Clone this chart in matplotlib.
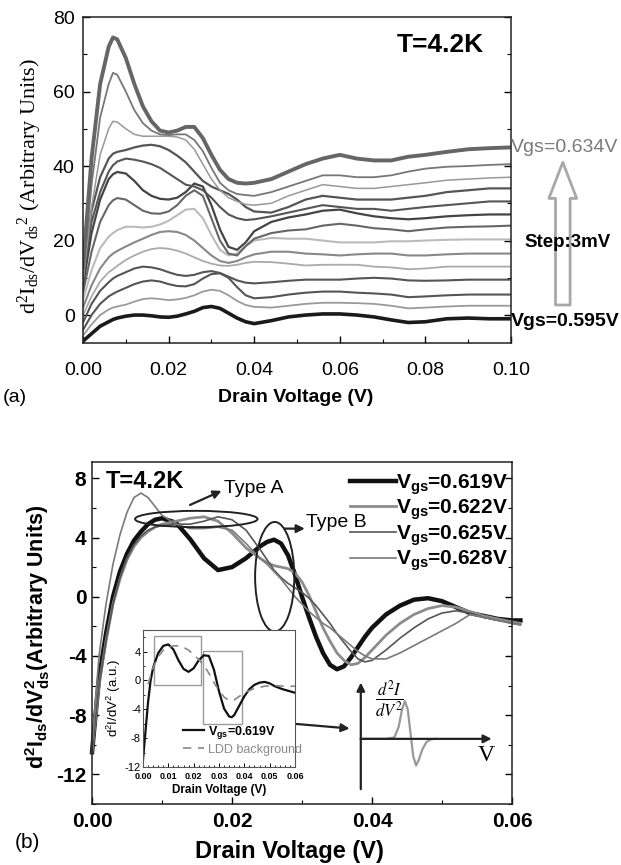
import matplotlib
matplotlib.use("Agg")
import matplotlib.pyplot as plt
from matplotlib.patches import Ellipse, Rectangle
from matplotlib.ticker import MultipleLocator, FixedLocator

plt.rcParams["font.family"] = ["Liberation Sans", "DejaVu Sans"]
plt.rcParams["axes.unicode_minus"] = False

# ---- panel (a): d2I/dV2 for Vgs = 0.595 ... 0.634 V, 3 mV steps ----
A_X = [0, .002, .004, .006, .007, .008, .010, .012, .014, .016, .018, .020,
       .022, .024, .026, .028, .030, .032, .034, .036, .038, .040, .044, .048,
       .052, .056, .060, .064, .068, .072, .076, .080, .085, .090, .095, .100]

A_0595 = [-7, -5, -3, -1.8, -1.2, -0.8, -0.3, 0, 0, -0.2, -0.5, -0.6, -0.3, 0.3, 1, 2, 2.3, 1.8,
          0.5, -0.8, -1.8, -2.3, -1.5, -0.5, 0, 0.3, 0.3, 0, -0.5, -1.3, -2, -1.8, -1, -0.8, -1, -1]
A_0598 = [-5.5, -2.5, 0, 1.5, 2, 2.3, 2.8, 3.6, 4.3, 4.5, 4.3, 4, 4.2, 4.6, 5.3, 6.3, 6.8, 6.5,
          5.3, 3.8, 2.7, 2.2, 2, 2.5, 3, 3.3, 3.3, 3.2, 3, 2.5, 1.8, 2, 2.3, 2.5, 2.5, 2.5]
A_0601 = [-4, 0, 3, 5, 5.7, 6.3, 7.3, 8.3, 9, 9.3, 9, 8.3, 7.8, 7.7, 8.3, 9.8, 11, 11.2,
          10, 7.5, 5.3, 4.5, 4.8, 5.5, 6, 6.3, 6.3, 6, 5.8, 5.5, 4.8, 5, 5.3, 5.5, 5.5, 5.5]
A_0604 = [-2, 3, 6.5, 8.8, 9.8, 10.5, 11.5, 12.5, 13, 12.8, 12.3, 11.5, 10.8, 10.5, 10.8, 11.5, 11.8, 11.3,
          10.3, 9.3, 8.7, 8.5, 8.8, 9.2, 9.5, 9.5, 9.5, 9.8, 10, 9.8, 9.3, 9.2, 9.3, 9.5, 9.5, 9.5]
A_0607 = [0, 5, 9, 11.5, 12.3, 13.2, 14.8, 16, 17, 17.7, 18, 17.8, 17.3, 16.5, 15.5, 14.5, 13.8, 13.3,
          13.2, 13.5, 14, 14.3, 14.2, 13.8, 13.3, 13.5, 13.5, 13.5, 13, 12.8, 12.3, 12.5, 13, 13, 13, 13]
A_0610 = [2, 8, 12.5, 15.5, 16.5, 17.2, 18.4, 19.5, 20.5, 21.5, 22.3, 22.5, 22.3, 21.5, 20, 18, 16, 14.5,
          14, 14.5, 15.5, 16.3, 17, 17, 16.5, 16.3, 16, 16.3, 16.5, 16.5, 16, 16, 16.3, 16.5, 16.5, 16.5]
A_0613 = [4, 12, 18, 21, 22, 22.8, 23.7, 23.7, 23.5, 23.7, 24.3, 25.3, 26.8, 28.3, 28.5, 26, 21.5, 17.5,
          16, 16.5, 18.5, 20, 20.7, 20.5, 20.5, 20, 19.5, 19.5, 19.5, 19.8, 19.8, 20, 20.2, 20.3, 20.3, 20.3]
A_0616 = [6, 17, 25, 29.5, 30.8, 31.4, 31, 29.5, 28, 27.3, 27.2, 27.8, 29.5, 32, 33.5, 32, 26, 20,
          16.5, 16, 18.5, 20.5, 22, 22.7, 23, 24, 24.5, 24, 23.3, 23, 22.5, 23, 23.5, 23.7, 23.8, 24]
A_0619 = [8, 22, 31, 36.5, 37.8, 38.4, 38, 36, 33.5, 32, 31.2, 31, 31.5, 33, 35.3, 34.5, 29.5, 23,
          18.3, 17.5, 19.5, 22.5, 25, 26.2, 27, 28, 28.3, 27.3, 26.5, 26, 25.7, 26, 26.5, 26.8, 27, 27]
A_0622 = [10, 25, 33, 38.5, 40.2, 41.2, 42, 41.7, 41.2, 40.5, 39.5, 38, 36.5, 35, 34.5, 33.5, 31.5, 29,
          27, 26, 25.5, 25.7, 26.5, 27.5, 28.5, 29.5, 29, 28.5, 28.5, 28, 28.5, 29, 29.5, 30, 30.5, 30.5]
A_0625 = [12, 28, 37, 42, 43.3, 43.8, 44.3, 45, 45.5, 45.7, 45.3, 44.3, 42.8, 41, 38.5, 36, 34.5, 33.5,
          32.5, 31, 29, 27.8, 27.5, 29, 31, 32, 31.5, 31, 31, 31, 31.5, 32, 33, 33.5, 34, 34]
A_0628 = [9, 29, 43, 50, 52, 51.8, 50, 48.5, 48, 48, 48, 48, 47.8, 47, 44.5, 40.5, 36.5, 33.5,
          31.5, 30.5, 29.7, 29.5, 30, 32, 33.5, 35, 34.5, 34, 34, 34.5, 35, 35.5, 36.2, 36.5, 36.8, 37]
A_0631 = [10, 35, 53, 62, 65, 64.5, 60, 55, 51.5, 49.5, 48.5, 48.3, 48.5, 48.5, 47, 44, 39.5, 35.5,
          33.5, 32.5, 32.2, 32, 33, 34.5, 36, 37.5, 37.5, 37, 37, 37.5, 38.5, 39.3, 39.8, 40, 40.3, 40.5]
A_0634 = [13, 42, 62, 72, 74.5, 74, 69, 62, 56, 52, 49.5, 49, 49.5, 50.5, 50.5, 47.5, 43, 39,
          36.5, 35.5, 35.3, 35.5, 36.5, 38.5, 40.5, 42, 43, 42, 41.5, 41.5, 42.5, 43, 43.8, 44.5, 44.8, 45]

A_CURVES = [A_0595, A_0598, A_0601, A_0604, A_0607, A_0610, A_0613,
            A_0616, A_0619, A_0622, A_0625, A_0628, A_0631, A_0634]
A_COLORS = ["#1a1a1a", "#9a9a9a", "#555555", "#555555", "#aaaaaa", "#888888", "#bbbbbb",
            "#666666", "#444444", "#555555", "#555555", "#999999", "#777777", "#666666"]
A_WIDTHS = [2.6, 1.3, 1.5, 1.5, 1.3, 1.5, 1.5, 1.5, 1.6, 1.5, 1.6, 1.1, 1.3, 2.8]

# ---- panel (b): four gate voltages ----
B_X = [0, .001, .002, .003, .004, .005, .006, .007, .008, .009, .010, .012, .014, .016, .018,
       .020, .022, .024, .025, .026, .027, .028, .029, .030, .031, .032, .033, .034, .035,
       .036, .037, .038, .039, .040, .042, .044, .046, .048, .050, .052, .054, .056, .058,
       .060, .0612]
B_0619 = [-10.5, -5.5, -2.5, 0, 1.7, 2.9, 3.8, 4.4, 4.9, 5.2, 5.3, 5.0, 3.9, 2.6, 1.8,
          2.0, 2.6, 3.4, 3.7, 3.85, 3.6, 2.8, 1.5, 0.0, -1.4, -2.7, -3.8, -4.6, -4.9,
          -4.7, -4.1, -3.4, -2.7, -2.1, -1.2, -0.6, -0.2, -0.1, -0.3, -0.7, -1.1, -1.3, -1.5,
          -1.6, -1.6]
B_0622 = [-10.5, -6, -3, -0.5, 1.2, 2.5, 3.4, 4.0, 4.4, 4.7, 4.9, 5.1, 5.3, 5.4, 5.1,
          4.3, 3.3, 2.6, 2.3, 2.1, 2.0, 1.9, 1.6, 1.0, 0.1, -1.0, -2.1, -3.0, -3.8,
          -4.3, -4.6, -4.5, -4.1, -3.6, -2.6, -1.8, -1.2, -0.8, -0.6, -0.7, -1.0, -1.3, -1.5,
          -1.7, -1.8]
B_0625 = [-10.5, -6, -3, -0.5, 1.3, 2.6, 3.5, 4.1, 4.5, 4.7, 4.8, 4.9, 4.9, 5.1, 5.4,
          5.2, 4.5, 3.2, 2.5, 1.8, 1.3, 0.9, 0.6, 0.3, -0.1, -0.6, -1.2, -1.8, -2.5,
          -3.1, -3.7, -4.2, -4.4, -4.3, -3.6, -2.8, -2.1, -1.5, -1.1, -0.95, -1.1, -1.4, -1.6,
          -1.8, -1.9]
B_0628 = [-10, -4, -0.5, 2.2, 4.2, 5.7, 6.7, 7.0, 6.7, 6.1, 5.5, 4.9, 4.6, 4.6, 4.7,
          4.5, 3.6, 2.6, 2.2, 1.7, 1.2, 0.6, 0.0, -0.5, -1.0, -1.4, -1.8, -2.1, -2.5,
          -2.9, -3.3, -3.7, -4.0, -4.2, -4.2, -3.8, -3.3, -2.8, -2.3, -1.8, -1.2, -1.4, -1.6,
          -1.8, -1.9]
B_CURVES = [B_0619, B_0622, B_0625, B_0628]
B_LABELS = [r"$\mathregular{V_{gs}}$=0.619V", r"$\mathregular{V_{gs}}$=0.622V",
            r"$\mathregular{V_{gs}}$=0.625V", r"$\mathregular{V_{gs}}$=0.628V"]
B_COLORS = ["#111111", "#8c8c8c", "#555555", "#7a7a7a"]
B_WIDTHS = [3.2, 2.0, 1.2, 1.2]

# inset of (b): Vgs=0.619V against the LDD background
IN_X = [0, .001, .002, .003, .004, .006, .008, .010, .012, .014, .016, .018, .020, .022, .024,
        .026, .028, .030, .032, .034, .035, .036, .038, .040, .042, .044, .046, .048, .050,
        .052, .055, .058, .060]
IN_0619 = [-11, -7, -3, 0, 1.8, 3.8, 4.8, 5.0, 4.3, 2.8, 1.6, 1.2, 1.7, 2.8, 3.5,
           3.4, 1.5, -1.5, -3.9, -5.0, -5.1, -4.8, -3.5, -2.2, -1.2, -0.6, -0.3, -0.2, -0.4,
           -0.8, -1.2, -1.5, -1.7]
LDD_X = [.002, .004, .006, .008, .010, .012, .014, .016, .018, .020, .022, .024, .026, .028,
         .030, .032, .034, .036, .038, .040, .044, .048, .052, .056, .060]
LDD_BG = [-0.5, 1.8, 3.3, 4.2, 4.6, 4.8, 4.8, 4.6, 4.2, 3.6, 2.9, 2.1, 1.0, -0.3,
          -1.4, -2.3, -2.8, -2.7, -2.2, -1.7, -1.1, -0.8, -0.7, -0.8, -0.8]

# schematic single-resonance pulse drawn in (b) data units
PULSE_X = [.0384, .0420, .0432, .0438, .0443, .0447, .0451, .0455, .0459, .0463, .0467,
           .0472, .0478, .0485, .0490]
PULSE_Y = [-9.6, -9.6, -9.5, -8.8, -7.6, -7.05, -7.6, -9.2, -10.8, -11.4, -11.0,
           -10.3, -9.8, -9.62, -9.6]

W, H = 621, 865


def frac_box(left, top, right, bottom):
    return [left / W, 1 - bottom / H, (right - left) / W, (bottom - top) / H]


def style_ticks(ax, size, pad_x, pad_y, weight="normal"):
    ax.tick_params(which="both", direction="in", top=False, right=True)
    ax.tick_params(which="major", length=5, width=1.0)
    ax.tick_params(which="minor", length=3, width=0.8)
    ax.tick_params(axis="x", pad=pad_x)
    ax.tick_params(axis="y", pad=pad_y)
    for lab in ax.get_xticklabels() + ax.get_yticklabels():
        lab.set_fontsize(size)
        lab.set_fontweight(weight)
    for sp in ax.spines.values():
        sp.set_linewidth(1.1)
        sp.set_color("#222222")


def panel_a(fig):
    ax = fig.add_axes(frac_box(83, 17, 511, 343))
    for ys, c, lw in zip(A_CURVES, A_COLORS, A_WIDTHS):
        ax.plot(A_X, ys, color=c, lw=lw, solid_joinstyle="round")
    ax.set_xlim(0, 0.1)
    ax.set_ylim(-7.5, 80)
    ax.xaxis.set_major_locator(MultipleLocator(0.02))
    ax.xaxis.set_minor_locator(MultipleLocator(0.01))
    ax.yaxis.set_major_locator(MultipleLocator(20))
    ax.yaxis.set_minor_locator(MultipleLocator(10))
    ax.xaxis.set_major_formatter(lambda v, p: f"{v:.2f}")
    style_ticks(ax, 14, 14, 6)

    ax.set_xlabel("Drain Voltage (V)", fontsize=14, fontweight="bold")
    ax.xaxis.set_label_coords(0.498, -0.168)
    ax.xaxis.label.set_va("center")
    ax.set_ylabel(r"$\mathregular{d^2I_{ds}/dV_{ds}{}^{2}}$ (Arbitrary Units)",
                  fontsize=16, family="Liberation Serif")
    ax.yaxis.set_label_coords(-0.124, 0.48)
    ax.yaxis.label.set_va("center")

    ax.text(0.0836, 72.6, "T=4.2K", fontsize=19, fontweight="bold", ha="center", va="center")
    ax.text(0.1, A_0634[-1], "Vgs=0.634V", fontsize=14, color="#7a7a7a",
            ha="left", va="center", clip_on=False)
    ax.text(0.1, A_0595[-1] - 0.6, "Vgs=0.595V", fontsize=14, fontweight="bold",
            ha="left", va="center", clip_on=False)
    ax.annotate("", xy=(0.1121, 41.0), xytext=(0.1121, 2.7), annotation_clip=False,
                arrowprops=dict(arrowstyle="simple,head_length=2.6,head_width=2.0,tail_width=1.05",
                                mutation_scale=10, fc="white", ec="#a8a8a8", lw=2,
                                shrinkA=0, shrinkB=0))
    ax.text(0.1133, 19.4, "Step:3mV", fontsize=13.5, fontweight="bold",
            ha="center", va="center", clip_on=False)
    fig.text(3 / W, 1 - 398 / H, "(a)", fontsize=14, va="center")


def panel_b(fig):
    ax = fig.add_axes(frac_box(92, 462, 512, 804))
    for ys, c, lw, lab in zip(B_CURVES, B_COLORS, B_WIDTHS, B_LABELS):
        ax.plot(B_X, ys, color=c, lw=lw, label=lab, clip_on=False, solid_joinstyle="round")
    ax.set_xlim(0, 0.06)
    ax.set_ylim(-14, 9.1)
    ax.xaxis.set_major_locator(MultipleLocator(0.02))
    ax.xaxis.set_minor_locator(MultipleLocator(0.01))
    ax.yaxis.set_major_locator(FixedLocator([-12, -8, -4, 0, 4, 8]))
    ax.yaxis.set_minor_locator(MultipleLocator(2))
    ax.xaxis.set_major_formatter(lambda v, p: f"{v:.2f}")
    ax.yaxis.set_major_formatter(lambda v, p: f"{v:.0f}")
    style_ticks(ax, 15, 6, 4, weight="bold")

    ax.set_xlabel("Drain Voltage (V)", fontsize=17, fontweight="bold")
    ax.xaxis.set_label_coords(0.469, -0.14)
    ax.xaxis.label.set_va("center")
    ax.set_ylabel(r"$\mathregular{d^2I_{ds}/dV_{ds}^2}$(Arbitrary Units)",
                  fontsize=15.5, fontweight="bold")
    ax.yaxis.set_label_coords(-0.129, 0.49)
    ax.yaxis.label.set_va("center")

    leg = ax.legend(loc="upper right", bbox_to_anchor=(1.01, 0.995), frameon=False,
                    handlelength=2.2, handletextpad=0.0, labelspacing=0.05,
                    borderaxespad=0.0, prop={"size": 15, "weight": "bold"})
    leg.set_zorder(5)

    ax.text(0.0019, 7.75, "T=4.2K", fontsize=17, fontweight="bold", ha="left", va="center")

    # Type A / Type B markers
    ax.add_patch(Ellipse((0.0149, 5.25), 0.0175, 1.1, fill=False, ec="#222222", lw=1.4, zorder=4))
    ax.add_patch(Ellipse((0.0261, 1.35), 0.0056, 7.4, fill=False, ec="#222222", lw=1.4, zorder=4))
    arrow = dict(arrowstyle="-|>", color="#222222", lw=1.6, mutation_scale=12,
                 shrinkA=0, shrinkB=0)
    ax.annotate("", xy=(0.0185, 7.15), xytext=(0.0140, 6.2), arrowprops=arrow)
    ax.annotate("", xy=(0.0304, 4.6), xytext=(0.0275, 4.6), arrowprops=arrow)
    ax.text(0.0189, 7.3, "Type A", fontsize=14, ha="left", va="center")
    ax.text(0.0306, 5.0, "Type B", fontsize=14, ha="left", va="center")

    # schematic of a single resonance
    ax.plot(PULSE_X, PULSE_Y, color="#999999", lw=1.6, zorder=3)
    ax.annotate("", xy=(0.0571, -9.6), xytext=(0.0384, -9.6), arrowprops=arrow, zorder=4)
    ax.annotate("", xy=(0.0384, -5.8), xytext=(0.0384, -13.0), arrowprops=arrow, zorder=4)
    ax.text(0.0563, -10.7, "V", fontsize=17, ha="center", va="center",
            family="Liberation Serif")
    ax.text(0.0425, -6.9, r"$\frac{d^2I}{dV^2}$", fontsize=17, ha="center", va="center",
            math_fontfamily="stix")
    ax.annotate("", xy=(0.0368, -8.9), xytext=(0.0219, -8.3), arrowprops=arrow, zorder=6)

    fig.text(15 / W, 1 - 842 / H, "(b)", fontsize=15, va="center")
    return ax


def inset_b(fig):
    ax = fig.add_axes(frac_box(143, 630, 295, 767), zorder=3)
    ax.set_facecolor("white")
    ax.plot(IN_X, IN_0619, color="#111111", lw=1.6, label=r"$\mathregular{V_{gs}}$=0.619V")
    ax.plot(LDD_X, LDD_BG, color="#888888", lw=1.2, ls=(0, (5, 4)), label="LDD background")
    ax.add_patch(Rectangle((0.0043, -0.6), 0.0185, 6.8, fill=False, ec="#9a9a9a", lw=1.0))
    ax.add_patch(Rectangle((0.0237, -6.1), 0.0153, 10.2, fill=False, ec="#9a9a9a", lw=1.0))
    ax.set_xlim(0, 0.06)
    ax.set_ylim(-12, 7)
    ax.xaxis.set_major_locator(MultipleLocator(0.01))
    ax.xaxis.set_minor_locator(MultipleLocator(0.002))
    ax.yaxis.set_major_locator(FixedLocator([-12, -8, -4, 0, 4]))
    ax.yaxis.set_minor_locator(MultipleLocator(2))
    ax.xaxis.set_major_formatter(lambda v, p: f"{v:.2f}")
    ax.yaxis.set_major_formatter(lambda v, p: f"{v:.0f}")
    ax.tick_params(which="both", direction="in", top=False, right=False)
    ax.tick_params(which="major", length=3, width=0.7)
    ax.tick_params(which="minor", length=1.5, width=0.6)
    ax.tick_params(axis="x", pad=3.5)
    ax.tick_params(axis="y", pad=1.5)
    for lab in ax.get_xticklabels():
        lab.set_fontsize(6.5)
        lab.set_fontweight("bold")
    for lab in ax.get_yticklabels():
        lab.set_fontsize(8)
    for sp in ax.spines.values():
        sp.set_linewidth(0.8)
        sp.set_color("#555555")
    ax.set_xlabel("Drain Voltage (V)", fontsize=8.5, fontweight="bold", labelpad=2)
    ax.set_ylabel(r"$\mathregular{d^2I/dV^2}$ (a.u.)", fontsize=9.5, labelpad=1)
    leg = ax.legend(loc="lower left", bbox_to_anchor=(0.19, 0.0), frameon=False,
                    handlelength=1.7, handletextpad=0.3, labelspacing=0.25,
                    prop={"size": 9})
    texts = leg.get_texts()
    texts[0].set_fontweight("bold")
    texts[1].set_color("#8a8a8a")


def main():
    fig = plt.figure(figsize=(W / 100, H / 100), dpi=100)
    panel_a(fig)
    panel_b(fig)
    inset_b(fig)
    fig.savefig("out.png", dpi=100)


if __name__ == "__main__":
    main()
